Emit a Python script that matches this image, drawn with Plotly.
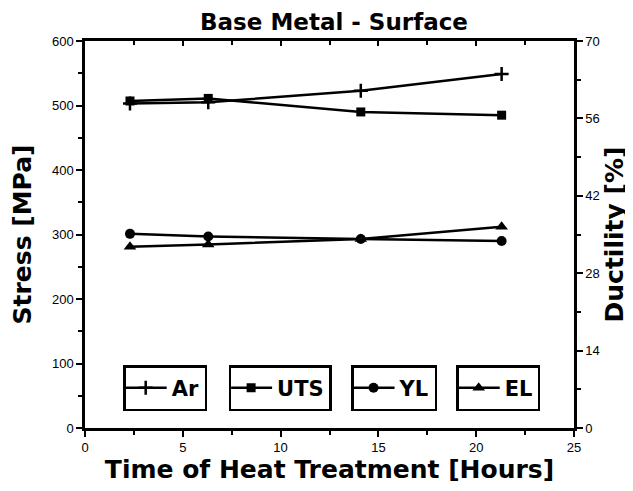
import plotly.graph_objects as go

hours = [2.3, 6.3, 14.1, 21.3]
ar_stress = [503, 505, 523, 549]
uts_stress = [507, 511, 490, 485]
yl_stress = [301, 297, 293, 290]
el_ductility = [32.8, 33.2, 34.2, 36.4]

FONT = "Liberation Sans"
BFONT = "DejaVu Sans"
lw = 2.5

fig = go.Figure()
fig.add_trace(go.Scatter(x=hours, y=ar_stress, name="Ar", mode="lines+markers",
                         line=dict(color="black", width=lw),
                         marker=dict(symbol="cross-thin", size=10, color="black",
                                     line=dict(width=2.5, color="black")),
                         xaxis="x3", yaxis="y",
                         legend="legend", showlegend=True))
fig.add_trace(go.Scatter(x=hours, y=uts_stress, name="UTS", mode="lines+markers",
                         line=dict(color="black", width=lw),
                         marker=dict(symbol="square", size=9, color="black"),
                         legend="legend2", showlegend=True))
fig.add_trace(go.Scatter(x=hours, y=yl_stress, name="YL", mode="lines+markers",
                         line=dict(color="black", width=lw),
                         marker=dict(symbol="circle", size=10, color="black"),
                         legend="legend3", showlegend=True))
fig.add_trace(go.Scatter(x=hours, y=el_ductility, name="EL", mode="lines+markers",
                         line=dict(color="black", width=lw),
                         marker=dict(symbol="triangle-up", size=11, color="black"),
                         yaxis="y2", legend="legend4", showlegend=True))

tickfont = dict(family=FONT, size=13, color="black")
titlefont = dict(family=BFONT, size=25, color="black", weight="bold")

def leg(x):
    return dict(x=x, y=0.103, xanchor="center", yanchor="middle", visible=True,
                bordercolor="black", borderwidth=2.5, bgcolor="white",
                font=dict(family=BFONT, size=21, color="black", weight="bold"),
                itemwidth=42, tracegroupgap=0, indentation=-6)

fig.update_layout(
    width=633, height=491,
    showlegend=True,
    margin=dict(l=77, r=67, t=33, b=71, autoexpand=False),
    plot_bgcolor="white", paper_bgcolor="white",
    title=dict(text="Base Metal - Surface", x=0.515, xanchor="center", y=0.972, yanchor="middle",
               font=dict(family=BFONT, size=23, color="black", weight="bold")),
    xaxis=dict(range=[0, 25], dtick=5, tick0=0, showline=True, linecolor="black", linewidth=2.5,
               mirror=True, ticks="outside", ticklen=6, tickwidth=2, tickcolor="black",
               minor=dict(dtick=2.5, ticks="outside", ticklen=4, tickwidth=1.5, tickcolor="black"),
               showgrid=False, zeroline=False, tickfont=tickfont, automargin=False,
               title=dict(text="Time of Heat Treatment [Hours]", font=titlefont, standoff=6)),
    xaxis3=dict(range=[0, 25], dtick=5, tick0=0, overlaying="x", side="top", showline=False,
                ticks="inside", ticklen=5, tickwidth=1.5, tickcolor="black",
                minor=dict(dtick=2.5, ticks="inside", ticklen=4, tickwidth=1.5, tickcolor="black"),
                showticklabels=False, showgrid=False, zeroline=False, automargin=False),
    yaxis=dict(range=[0, 600], dtick=100, tick0=0, showline=True, linecolor="black", linewidth=2.5,
               ticks="outside", ticklen=6, tickwidth=2, tickcolor="black",
               minor=dict(dtick=50, ticks="outside", ticklen=4, tickwidth=1.5, tickcolor="black"),
               showgrid=False, zeroline=False, tickfont=tickfont, automargin=False,
               title=dict(text="Stress [MPa]", font=titlefont, standoff=14)),
    yaxis2=dict(range=[0, 70], dtick=14, tick0=0, overlaying="y", side="right", showline=True,
                linecolor="black", linewidth=2.5,
                ticks="outside", ticklen=6, tickwidth=2, tickcolor="black",
                minor=dict(dtick=7, ticks="outside", ticklen=4, tickwidth=1.5, tickcolor="black"),
                showgrid=False, zeroline=False, tickfont=tickfont, automargin=False,
                title=dict(text="Ductility [%]", font=titlefont, standoff=4)),
    legend=leg(0.164),
    legend2=leg(0.399),
    legend3=leg(0.632),
    legend4=leg(0.845),
)

fig.write_html("out.html")
